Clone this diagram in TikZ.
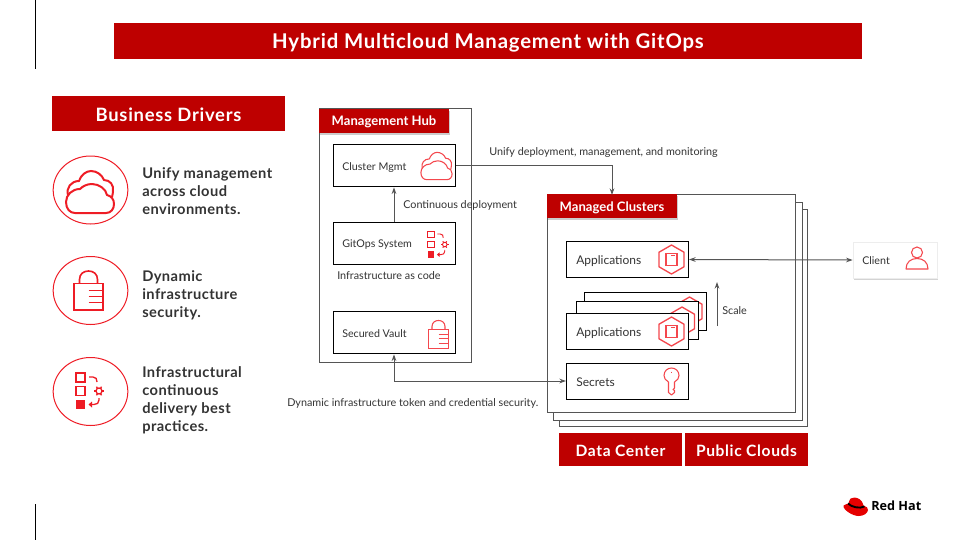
\documentclass[tikz,border=0pt]{standalone}
\usepackage{fontspec}
\setmainfont{Lato}
\newfontfamily\headfont[LetterSpace=4]{Lato}
\newfontfamily\driverfont[LetterSpace=3]{Lato}
\newfontfamily\logofont{Open Sans}
\usetikzlibrary{arrows.meta,
	shadows,
	shapes.geometric}
\definecolor{rhred}{HTML}{BE0000}
\definecolor{iconred}{HTML}{EE1C25}
\definecolor{iconlight}{HTML}{F4474D}
\definecolor{linegrey}{HTML}{555555}
\definecolor{textgrey}{HTML}{333333}
\tikzset{
  cloudicon/.pic={
    \draw[line join=round] (-15,21) -- (16,21) .. controls (21,21) and (24,17) .. (24,12) .. controls (24,7) and (21,4) .. (17,3) .. controls (16,-3) and (9,-8) .. (2,-8) .. controls (-3,-8) and (-7,-6) .. (-10,-3) .. controls (-18,-3) and (-24,3) .. (-24,10) .. controls (-24,17) and (-20,21) .. (-15,21) -- cycle;
    \draw (-22,3) .. controls (-24,-4) and (-19,-11) .. (-11,-11) .. controls (-9,-17) and (-4,-21) .. (1,-21) .. controls (7,-21) and (12,-17) .. (14,-12) .. controls (20,-12) and (24,-7) .. (23,-1) .. controls (23,1) and (22.5,3) .. (22,5);
  },
  lockicon/.pic={
    \draw (-14.5,-7) rectangle (14.5,19.5);
    \draw (-9,-7) -- (-9,-11) .. controls (-9,-16.5) and (-5,-19.5) .. (0,-19.5) .. controls (5,-19.5) and (9,-16.5) .. (9,-11) -- (9,-7);
    \draw (0,0) -- (14.5,0) (0,6) -- (14.5,6) (0,12) -- (14.5,12);
  },
  tasksicon/.pic={
    \draw (-14,-18) rectangle (-5,-9);
    \draw (-14,-4.5) rectangle (-5,4.5);
    \fill (-14,9) rectangle (-5,18);
    \draw (-1,-14) -- (3,-14) .. controls (6,-14) and (7,-12) .. (7,-9);
    \draw (9,7) -- (9,9) .. controls (9,12) and (7,13.5) .. (4,13.5) -- (1,13.5);
    \fill (-1.5,13.5) -- (2,10.5) -- (2,16.5) -- cycle;
    \draw (9,0) circle (3);
    \foreach \a in {0,60,...,300} \draw (9,0) ++(\a:3) -- ++(\a:2);
  },
  hexicon/.pic={
    \draw[fill=white,line join=round] (30:14.5) -- (90:14.5) -- (150:14.5) -- (210:14.5) -- (270:14.5) -- (330:14.5) -- cycle;
    \draw (-5.5,-6) rectangle (5.5,6);
    \fill (-1,-4.5) rectangle (3,-3.5);
  },
  keyicon/.pic={
    \draw[line join=round] (-3,0.5) -- (-3,11) -- (0,13.5) -- (3,11) -- (3,9) -- (1.5,8) -- (3,6.5) -- (3,0.5) .. controls (6,-1) and (7.5,-3.5) .. (7.5,-6) .. controls (7.5,-10.5) and (4,-13.5) .. (0,-13.5) .. controls (-4,-13.5) and (-7.5,-10.5) .. (-7.5,-6) .. controls (-7.5,-3.5) and (-6,-1) .. (-3,0.5) -- cycle;
    \draw (0,-10) -- (0,-8.5);
  },
  personicon/.pic={
    \draw (0,-5.5) circle (5.5);
    \draw[line join=round] (-11,11) .. controls (-11,4) and (-6,0.5) .. (0,0.5) .. controls (6,0.5) and (11,4) .. (11,11) -- cycle;
  },
  hatlogo/.pic={
    \fill[red!90!black] (-12,-1) .. controls (-10,-3) and (-8,-2) .. (-7,-3) .. controls (-6,-8) and (-4,-9.5) .. (-1,-9) .. controls (2,-8.5) and (6,-8) .. (8,-1) .. controls (11,0) and (13,1.5) .. (12.5,3.5) .. controls (12,7) and (8,9.5) .. (3,9.5) .. controls (-3,9.5) and (-13,3) .. (-12,-1) -- cycle;
    \draw[black,line width=1.4pt] (-7.5,-3) .. controls (-4,0.5) and (4,2.5) .. (9,0);
  }
}
\begin{document}
\begin{tikzpicture}[x=0.75pt,y=-0.75pt,>={Stealth[length=5pt,width=3.5pt]}]
    \tikzstyle{banner}=[rectangle,fill=rhred,text=white,inner sep=0pt]
    \tikzstyle{bannertext}=[anchor=center,inner sep=0pt,text=white,yshift=-1.2pt]
    \tikzstyle{tag}=[rectangle,fill=rhred,inner sep=0pt,minimum height=18pt,minimum width=97.5pt,drop shadow={opacity=0.4,shadow xshift=1pt,shadow yshift=-1.5pt}]
    \tikzstyle{tagtext}=[anchor=center,inner sep=0pt,text=white,yshift=-1.2pt,font=\fontsize{9.8}{11}\selectfont\bfseries]
    \tikzstyle{sheet}=[rectangle,draw=linegrey,fill=white,line width=0.75pt,inner sep=0pt]
    \tikzstyle{itembox}=[rectangle,draw=black,fill=white,line width=0.75pt,minimum width=91.5pt,inner sep=0pt]
    \tikzstyle{itemtext}=[anchor=west,inner sep=0pt,text=textgrey,yshift=-1pt,font=\fontsize{8}{10}\selectfont]
    \tikzstyle{apptext}=[itemtext,font=\fontsize{9}{11}\selectfont]
    \tikzstyle{note}=[anchor=west,inner sep=0pt,text=textgrey,yshift=-1pt,font=\fontsize{8.1}{10}\selectfont]
    \tikzstyle{driver}=[anchor=west,inner sep=0pt,align=left,text=textgrey,font=\driverfont\fontsize{11}{13.5}\selectfont\bfseries]
    \tikzstyle{badge}=[ellipse,draw=iconred,line width=0.75pt,minimum width=56pt,minimum height=51pt,inner sep=0pt]
    \tikzstyle{link}=[draw=linegrey,line width=0.75pt]
    \useasboundingbox (0,0) rectangle (960,540);
    % page marks
    \draw[black,line width=0.6pt] (35,0) -- (35,69);
    \draw[black,line width=0.6pt] (35,504) -- (35,540);
    % headings
    \node[banner,minimum width=561pt,minimum height=27pt] (title) at (488,41) {};
    \node[bannertext,font=\headfont\fontsize{15.25}{17}\selectfont\bfseries] (title_text) at (title) {Hybrid Multicloud Management with GitOps};
    \node[banner,minimum width=175pt,minimum height=26.5pt] (drivers) at (168.5,113.5) {};
    \node[bannertext,font=\headfont\fontsize{13.8}{16}\selectfont\bfseries] (drivers_text) at (drivers) {Business Drivers};
    % drivers on the left
    \node[badge] (badge_1) at (90.5,190) {};
    \node[badge] (badge_2) at (90.5,290.5) {};
    \node[badge] (badge_3) at (90.5,391.5) {};
    \pic[iconred,line width=1.5pt] at (90,192) {cloudicon};
    \pic[iconred,line width=1.2pt] at (88.5,290.5) {lockicon};
    \pic[iconred,line width=1pt] at (90,391) {tasksicon};
    \node[driver] (driver_1) at (142,191) {Unify management\\across cloud\\environments.};
    \node[driver] (driver_2) at (142,295) {Dynamic\\infrastructure\\security.};
    \node[driver] (driver_3) at (142,400) {Infrastructural\\continuous\\delivery best\\practices.};
    % management hub
    \node[sheet,minimum width=114pt,minimum height=191pt] (hub) at (395,235.5) {};
    \node[tag] (hub_tag) at (384,120.5) {};
    \node[tagtext] (hub_text) at (hub_tag) {Management Hub};
    \node[itembox,minimum height=32pt] (cluster) at (394,165.5) {};
    \node[itemtext] (cluster_text) at (342,166) {Cluster Mgmt};
    \node[itembox,minimum height=32pt] (gitops) at (394,243.5) {};
    \node[itemtext] (gitops_text) at (342,243.5) {GitOps System};
    \node[itembox,minimum height=32pt] (vault) at (394,332.5) {};
    \node[itemtext] (vault_text) at (342,332.5) {Secured Vault};
    \pic[iconlight,scale=0.65,line width=0.8pt] at (436.5,166) {cloudicon};
    \pic[iconred,scale=0.75,line width=0.7pt] at (438,244.5) {tasksicon};
    \pic[iconlight,scale=0.72,line width=0.8pt] at (438.5,334.5) {lockicon};
    % managed clusters
    \node[sheet,minimum width=186pt,minimum height=163pt] (sheet_3) at (683.5,318) {};
    \node[sheet,minimum width=187pt,minimum height=163pt] (sheet_2) at (678,311.5) {};
    \node[sheet,minimum width=186pt,minimum height=163pt] (managed) at (671,303.5) {};
    \node[tag] (managed_tag) at (612,206) {};
    \node[tagtext] (managed_text) at (managed_tag) {Managed Clusters};
    \coordinate (managed_in) at (612,195);
    \node[itembox,minimum height=26.5pt] (apps) at (627.5,259.5) {};
    \node[apptext] (apps_text) at (576,260) {Applications};
    \pic[iconlight,line width=1pt] at (671.5,259.5) {hexicon};
    \node[itembox,minimum height=28pt] (apps_3) at (645,311.5) {};
    \pic[iconlight,line width=1pt] at (689.5,311.5) {hexicon};
    \node[itembox,minimum height=28pt] (apps_2) at (637,320.5) {};
    \pic[iconlight,line width=1pt] at (682,321.5) {hexicon};
    \node[itembox,minimum height=27pt] (apps_1) at (627.5,331) {};
    \node[apptext] (apps_1_text) at (576,332) {Applications};
    \pic[iconlight,line width=1pt] at (671.5,331.5) {hexicon};
    \node[itembox,minimum height=27pt] (secrets) at (627.5,381) {};
    \node[apptext] (secrets_text) at (576,381) {Secrets};
    \pic[iconlight,line width=0.8pt] at (671.5,381.5) {keyicon};
    \node[banner,minimum width=92pt,minimum height=25pt] (datacenter) at (620.5,449.5) {};
    \node[bannertext,font=\headfont\fontsize{11.7}{14}\selectfont\bfseries] (datacenter_text) at (datacenter) {Data Center};
    \node[banner,minimum width=92pt,minimum height=25pt] (publicclouds) at (746.5,449.5) {};
    \node[bannertext,font=\headfont\fontsize{11.7}{14}\selectfont\bfseries] (publicclouds_text) at (publicclouds) {Public Clouds};
    % client
    \node[rectangle,draw=black!7,fill=white,line width=0.5pt,drop shadow={opacity=0.35,shadow xshift=0.6pt,shadow yshift=-1.5pt},minimum width=63pt,minimum height=27pt,inner sep=0pt] (client) at (895,260) {};
    \node[itemtext] (client_text) at (862,259) {Client};
    \pic[iconlight,line width=0.8pt] at (917,258) {personicon};
    % scale marks
    \coordinate (scale_from) at (717,326);
    \coordinate (scale_to) at (717,282);
    % connectors
    \draw[link,->] (gitops) -- (cluster);
    \draw[link,->] (cluster.east) -| (managed_in);
    \draw[link,<->] (apps.east) -- (client.west);
    \draw[link,<->] (secrets.west) -| (vault.south);
    \draw[link,->] (scale_from) -- (scale_to);
    % connector labels
    \node[note] (label_unify) at (489,151) {Unify deployment, management, and monitoring};
    \node[note] (label_cd) at (403,204) {Continuous deployment};
    \node[note] (label_iac) at (337,274) {Infrastructure as code};
    \node[note] (label_scale) at (722,309) {Scale};
    \node[note] (label_token) at (287,402) {Dynamic infrastructure token and credential security.};
    % logo
    \pic at (855.5,506.5) {hatlogo};
    \node[anchor=west,inner sep=0pt,text=black,font=\logofont\bfseries\fontsize{9.5}{11}\selectfont] (logo) at (871,506) {Red Hat};
\end{tikzpicture}
\end{document}
